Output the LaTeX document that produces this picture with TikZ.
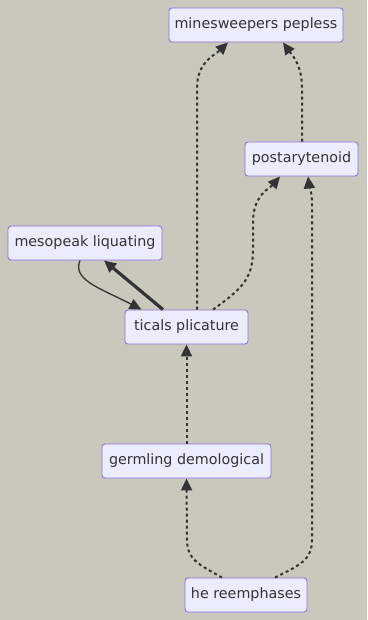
\documentclass[tikz,border=0pt]{standalone}
\usepackage{fontspec}
\setmainfont{DejaVu Sans}
\usetikzlibrary{arrows.meta}
\definecolor{bgc}{RGB}{200,200,188}
\definecolor{nodefill}{RGB}{236,236,255}
\definecolor{nodeline}{RGB}{147,112,219}
\definecolor{ink}{RGB}{51,51,51}
\tikzset{
  box/.style={draw=nodeline, fill=nodefill, line width=0.9pt, rounded corners=3pt,
    minimum height=34pt, inner sep=0pt, text=ink, font=\fontsize{14.3}{16}\selectfont},
  tip/.style={-{Triangle[length=12pt,width=11pt]}},
  dotline/.style={tip, draw=ink, line width=2pt, dash pattern=on 3pt off 3pt},
  thinline/.style={tip, draw=ink, line width=1.3pt},
  thickline/.style={tip, draw=ink, line width=3.2pt},
}
\begin{document}
\begin{tikzpicture}[x=1pt,y=-1pt]
\fill[bgc] (0,0) rectangle (367,620);
\useasboundingbox (0,0) rectangle (367,620);

\node[box, minimum width=174pt] (mp) at (256,25) {minesweepers pepless};
\node[box, minimum width=113pt] (pt) at (301.5,159) {postarytenoid};
\node[box, minimum width=154pt] (ml) at (85,243) {mesopeak liquating};
\node[box, minimum width=123pt] (tp) at (186.5,327) {ticals plicature};
\node[box, minimum width=169pt] (gd) at (186.5,461) {germling demological};
\node[box, minimum width=122pt] (hr) at (246,595) {he reemphases};

% dotted links
\draw[dotline] ([xshift=10.5pt]tp.north) -- (197,88) .. controls (197,62) and (215,55) .. ([xshift=-28pt]mp.south);
\draw[dotline] ([xshift=0.5pt]pt.north) -- (302,88) .. controls (302,65) and (292,55) .. ([xshift=27pt]mp.south);
\draw[dotline] ([xshift=26.5pt]tp.north) .. controls (240,290) and (253,280) .. (253,250) -- (253,222) .. controls (253,195) and (270,188) .. ([xshift=-21.5pt]pt.south);
\draw[dotline] (gd.north) -- (tp.south);
\draw[dotline] ([xshift=-24pt]hr.north) .. controls (200,565) and (187,560) .. (187,540) -- (gd.south);
\draw[dotline] ([xshift=29pt]hr.north) .. controls (300,565) and (312,560) .. (312,540) -- (312,205) .. controls (312,190) and (309,185) .. ([xshift=6.5pt]pt.south);

% solid links
\draw[thinline] ([xshift=-5pt]ml.south) .. controls (72,280) and (100,288) .. ([xshift=-45pt]tp.north);
\draw[thickline] ([xshift=-23.5pt]tp.north) -- ([xshift=19pt]ml.south);
\end{tikzpicture}
\end{document}
